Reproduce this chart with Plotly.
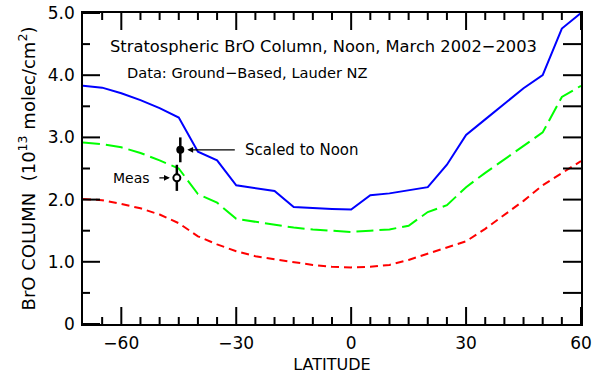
import plotly.graph_objects as go

# Latitude grid (degrees) shared by the three model curves
lat = [-70, -65, -60, -55, -50, -45, -40, -35, -30, -25, -20, -15, -10, -5,
       0, 5, 10, 15, 20, 25, 30, 35, 40, 45, 50, 55, 60]

# Modelled BrO columns, 10^13 molec/cm^2
bro_blue = [3.83, 3.80, 3.71, 3.60, 3.47, 3.32, 2.77, 2.63, 2.23, 2.19, 2.14, 1.88, 1.86, 1.85,
            1.84, 2.07, 2.10, 2.15, 2.20, 2.56, 3.04, 3.29, 3.54, 3.79, 4.00, 4.75, 5.00]
bro_green = [2.92, 2.89, 2.84, 2.75, 2.63, 2.50, 2.09, 1.95, 1.69, 1.64, 1.60, 1.55, 1.52, 1.50,
             1.48, 1.50, 1.52, 1.58, 1.80, 1.91, 2.20, 2.43, 2.65, 2.87, 3.08, 3.65, 3.83]
bro_red = [2.01, 1.99, 1.93, 1.86, 1.76, 1.62, 1.41, 1.28, 1.17, 1.09, 1.04, 0.99, 0.95, 0.92,
           0.91, 0.92, 0.95, 1.03, 1.13, 1.22, 1.33, 1.53, 1.75, 1.98, 2.23, 2.43, 2.62]

# Lauder ground-based observations
noon_lat, noon_val, noon_err = [-44.6], [2.80], [0.20]
meas_lat, meas_val, meas_err = [-45.5], [2.35], [0.21]

# Axis ranges, ticks and labels
x_range = [-70, 60]
y_range = [0, 5]
x_ticks = [-60, -30, 0, 30, 60]
x_minor_ticks = [-65, -55, -50, -45, -40, -35, -25, -20, -15, -10, -5,
                 5, 10, 15, 20, 25, 35, 40, 45, 50, 55]
y_ticks = [0, 1, 2, 3, 4, 5]
y_tick_text = ["0", "1.0", "2.0", "3.0", "4.0", "5.0"]
y_minor_ticks = [0.5, 1.5, 2.5, 3.5, 4.5]
y_right_ticks = [0.5, 1.0, 1.5, 2.0, 2.5, 3.0, 3.5, 4.0, 4.5]

FONT = "DejaVu Sans"
TICK = dict(color="black", width=2)

W, H = 592, 374
MARGIN = dict(l=83, r=11, t=13, b=50)
# Data units per pixel, used to size the inward ticks
dx = (x_range[1] - x_range[0]) / (W - MARGIN["l"] - MARGIN["r"])
dy = (y_range[1] - y_range[0]) / (H - MARGIN["t"] - MARGIN["b"])

fig = go.Figure()
fig.add_trace(go.Scatter(x=lat, y=bro_blue, mode="lines",
                         line=dict(color="#0000ff", width=2)))
fig.add_trace(go.Scatter(x=lat, y=bro_green, mode="lines",
                         line=dict(color="#00ff00", width=2, dash="17px,6px")))
fig.add_trace(go.Scatter(x=lat, y=bro_red, mode="lines",
                         line=dict(color="#ff0000", width=2, dash="8px,5px")))

fig.add_trace(go.Scatter(
    x=noon_lat, y=noon_val, mode="markers",
    marker=dict(color="black", size=8),
    error_y=dict(type="data", array=noon_err, color="black", thickness=2.5, width=0)))
fig.add_trace(go.Scatter(
    x=meas_lat, y=meas_val, mode="markers",
    marker=dict(color="white", size=7, line=dict(color="black", width=2)),
    error_y=dict(type="data", array=meas_err, color="black", thickness=2.5, width=0)))


# Inward tick marks on all four sides of the frame
def x_tick(v, length):
    fig.add_shape(type="line", xref="x", yref="y", layer="above",
                  x0=v, x1=v, y0=y_range[0], y1=y_range[0] + length * dy, line=TICK)
    fig.add_shape(type="line", xref="x", yref="y", layer="above",
                  x0=v, x1=v, y0=y_range[1], y1=y_range[1] - length * dy, line=TICK)


def y_tick(v, length, side):
    x0 = x_range[0] if side == "left" else x_range[1]
    sgn = 1 if side == "left" else -1
    fig.add_shape(type="line", xref="x", yref="y", layer="above",
                  x0=x0, x1=x0 + sgn * length * dx, y0=v, y1=v, line=TICK)


for v in x_ticks:
    x_tick(v, 17)
for v in x_minor_ticks:
    x_tick(v, 7)
for v in y_ticks:
    y_tick(v, 17, "left")
for v in y_minor_ticks:
    y_tick(v, 7, "left")
for v in y_right_ticks:
    y_tick(v, 18, "right")

# Arrows pointing at the two observations
fig.add_annotation(x=noon_lat[0], y=noon_val[0], xref="x", yref="y", text="",
                   showarrow=True, ax=56, ay=0,
                   arrowhead=2, arrowsize=0.9, arrowwidth=1.3, arrowcolor="black",
                   standoff=7)
fig.add_annotation(x=meas_lat[0], y=meas_val[0], xref="x", yref="y", text="",
                   showarrow=True, ax=-19, ay=0, arrowhead=2, arrowsize=0.9,
                   arrowwidth=1.3, arrowcolor="black", standoff=7)
fig.add_annotation(x=-28.2, y=noon_val[0], xref="x", yref="y", text="Scaled to Noon",
                   showarrow=False, xanchor="left", yanchor="middle",
                   font=dict(family=FONT, size=15, color="black"))
fig.add_annotation(x=-62.6, y=meas_val[0], xref="x", yref="y", text="Meas",
                   showarrow=False, xanchor="left", yanchor="middle",
                   font=dict(family=FONT, size=14, color="black"))

# Title block inside the frame
fig.add_annotation(x=0.051, y=0.891, xref="paper", yref="paper",
                   text="Stratospheric BrO Column, Noon, March 2002\u22122003",
                   showarrow=False, xanchor="left", yanchor="middle",
                   font=dict(family=FONT, size=16.3, color="black"))
fig.add_annotation(x=0.085, y=0.810, xref="paper", yref="paper",
                   text="Data: Ground\u2212Based, Lauder NZ",
                   showarrow=False, xanchor="left", yanchor="middle",
                   font=dict(family=FONT, size=14.6, color="black"))

fig.update_layout(
    width=W, height=H,
    margin=MARGIN,
    paper_bgcolor="white", plot_bgcolor="white",
    showlegend=False,
    xaxis=dict(range=x_range, tickvals=x_ticks, ticks="",
               showline=True, linecolor="black", linewidth=1.5, mirror=True,
               showgrid=False, zeroline=False, automargin=False,
               tickfont=dict(family=FONT, size=17, color="black"),
               ticklabelstandoff=3,
               title=dict(text="LATITUDE", standoff=8,
                          font=dict(family=FONT, size=16, color="black"))),
    yaxis=dict(range=y_range, tickvals=y_ticks, ticktext=y_tick_text, ticks="",
               showline=True, linecolor="black", linewidth=1.5, mirror=True,
               showgrid=False, zeroline=False, automargin=False,
               tickfont=dict(family=FONT, size=17, color="black"),
               ticklabelstandoff=3,
               title=dict(text="BrO COLUMN  (10<sup>13</sup> molec/cm<sup>2</sup>)",
                          standoff=8, font=dict(family=FONT, size=18, color="black"))),
)

fig.write_html("out.html")
